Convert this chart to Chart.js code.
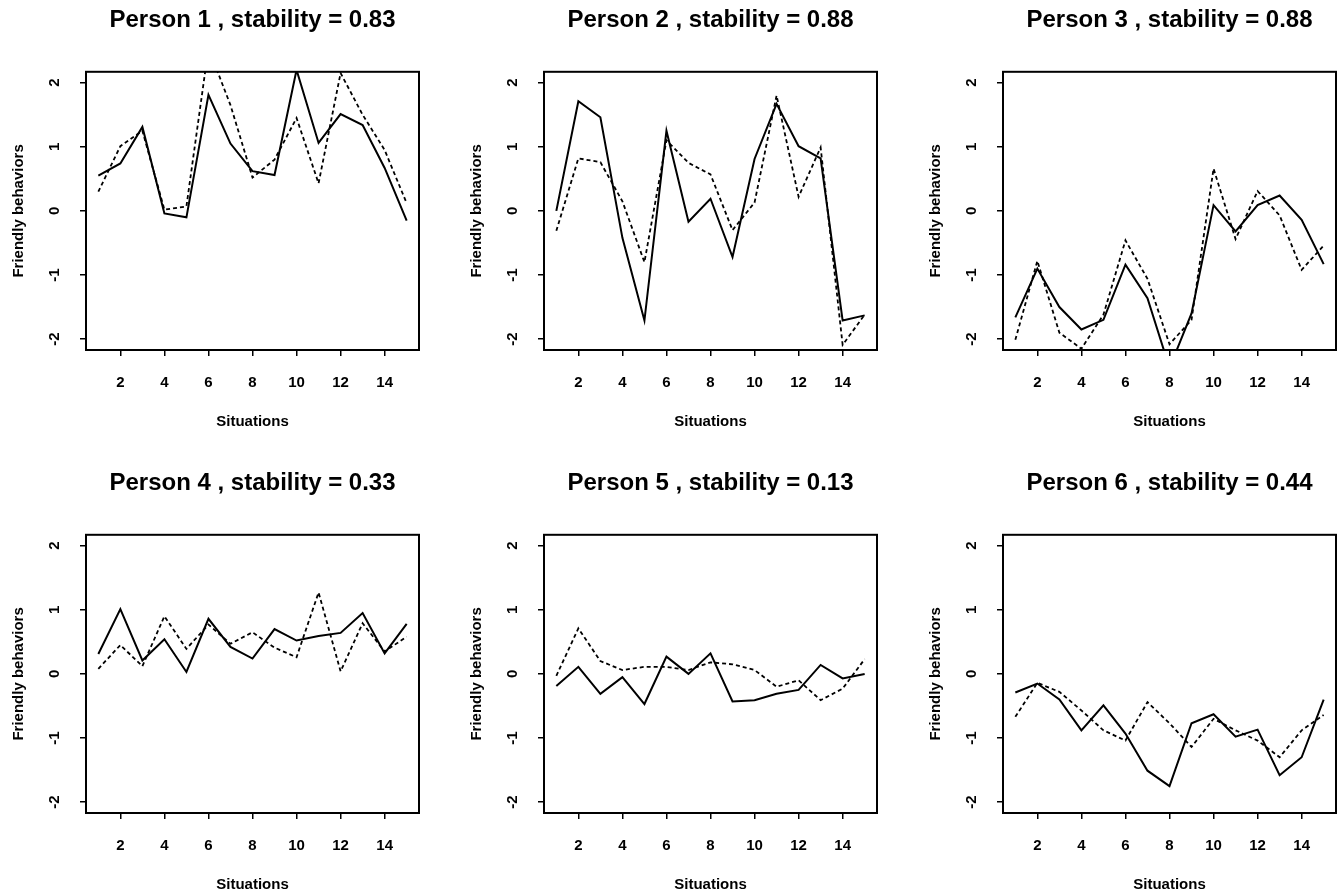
<!DOCTYPE html>
<html>
<head>
<meta charset="utf-8">
<script src="https://cdn.jsdelivr.net/npm/chart.js@4.4.1/dist/chart.umd.min.js"></script>
<style>
    html, body { margin: 0; padding: 0; background: #fff; width: 1340px; height: 896px; overflow: hidden; }
    .panel { position: absolute; width: 505px; height: 433px; }
</style>
</head>
<body>
<div class="panel" style="left:0px;top:0px"><canvas id="c1" width="505" height="433"></canvas></div>
<div class="panel" style="left:458px;top:0px"><canvas id="c2" width="505" height="433"></canvas></div>
<div class="panel" style="left:917px;top:0px"><canvas id="c3" width="505" height="433"></canvas></div>
<div class="panel" style="left:0px;top:463px"><canvas id="c4" width="505" height="433"></canvas></div>
<div class="panel" style="left:458px;top:463px"><canvas id="c5" width="505" height="433"></canvas></div>
<div class="panel" style="left:917px;top:463px"><canvas id="c6" width="505" height="433"></canvas></div>
<script>
// Data
const situations = [1, 2, 3, 4, 5, 6, 7, 8, 9, 10, 11, 12, 13, 14, 15];
const xTicks = [2, 4, 6, 8, 10, 12, 14];
const yTicks = [-2, -1, 0, 1, 2];
const stability = [0.83, 0.88, 0.88, 0.33, 0.13, 0.44];

const person1Solid  = [0.55, 0.74, 1.31, -0.04, -0.10, 1.81, 1.05, 0.62, 0.56, 2.20, 1.06, 1.51, 1.34, 0.67, -0.15];
const person1Dashed = [0.30, 1.01, 1.25, 0.02, 0.07, 2.54, 1.65, 0.52, 0.80, 1.45, 0.43, 2.15, 1.50, 0.95, 0.12];

const person2Solid  = [0.00, 1.71, 1.46, -0.42, -1.71, 1.25, -0.17, 0.19, -0.72, 0.81, 1.67, 1.01, 0.82, -1.71, -1.63];
const person2Dashed = [-0.31, 0.82, 0.76, 0.15, -0.80, 1.10, 0.75, 0.57, -0.30, 0.13, 1.80, 0.22, 0.99, -2.09, -1.62];

const person3Solid  = [-1.66, -0.90, -1.50, -1.85, -1.70, -0.84, -1.36, -2.45, -1.60, 0.09, -0.32, 0.09, 0.24, -0.14, -0.83];
const person3Dashed = [-2.01, -0.78, -1.90, -2.15, -1.62, -0.46, -1.06, -2.08, -1.70, 0.66, -0.44, 0.31, -0.07, -0.92, -0.54];

const person4Solid  = [0.31, 1.01, 0.21, 0.54, 0.03, 0.86, 0.42, 0.24, 0.70, 0.52, 0.59, 0.64, 0.95, 0.32, 0.78];
const person4Dashed = [0.08, 0.45, 0.12, 0.90, 0.39, 0.77, 0.47, 0.65, 0.41, 0.26, 1.27, 0.04, 0.79, 0.35, 0.58];

const person5Solid  = [-0.19, 0.11, -0.31, -0.05, -0.47, 0.27, 0.00, 0.32, -0.43, -0.41, -0.31, -0.25, 0.14, -0.07, 0.00];
const person5Dashed = [-0.03, 0.71, 0.20, 0.06, 0.11, 0.11, 0.06, 0.18, 0.15, 0.06, -0.20, -0.10, -0.41, -0.23, 0.23];

const person6Solid  = [-0.29, -0.15, -0.40, -0.88, -0.49, -0.93, -1.51, -1.75, -0.77, -0.63, -0.98, -0.87, -1.58, -1.30, -0.40];
const person6Dashed = [-0.67, -0.14, -0.28, -0.57, -0.88, -1.04, -0.44, -0.77, -1.14, -0.70, -0.88, -1.04, -1.30, -0.88, -0.64];

const persons = [
    [person1Solid, person1Dashed],
    [person2Solid, person2Dashed],
    [person3Solid, person3Dashed],
    [person4Solid, person4Dashed],
    [person5Solid, person5Dashed],
    [person6Solid, person6Dashed]
];

Chart.defaults.font.family = "'Liberation Sans', Arial, Helvetica, sans-serif";
Chart.defaults.color = '#000';

// Box round the plot area (R style)
const framePlugin = {
    id: 'frame',
    afterDraw(chart) {
        const { ctx, chartArea: a } = chart;
        ctx.save();
        ctx.strokeStyle = '#000';
        ctx.lineWidth = 2;
        ctx.strokeRect(a.left, a.top, a.right - a.left, a.bottom - a.top);
        ctx.restore();
    }
};

const toPoints = vals => situations.map((s, i) => ({ x: s, y: vals[i] }));

function makePanel(id, idx) {
    const [solid, dashed] = persons[idx];
    const axisFont = { size: 15, weight: 'bold' };

    return new Chart(document.getElementById(id), {
        type: 'line',
        data: {
            datasets: [{
                data: toPoints(solid),
                borderColor: '#000',
                borderWidth: 2,
                pointRadius: 0,
                tension: 0,
                clip: 0
            }, {
                data: toPoints(dashed),
                borderColor: '#000',
                borderWidth: 1.8,
                borderDash: [4, 3],
                pointRadius: 0,
                tension: 0,
                clip: 0
            }]
        },
        options: {
            responsive: false,
            animation: false,
            events: [],
            layout: { padding: { left: 0, right: 86, top: 0, bottom: 0 } },
            plugins: {
                legend: { display: false },
                tooltip: { enabled: false },
                title: {
                    display: true,
                    fullSize: false,   // centre over the plot box, not the canvas
                    text: `Person ${idx + 1} , stability = ${stability[idx].toFixed(2)}`,
                    font: { size: 24, weight: 'bold' },
                    color: '#000',
                    padding: { top: 6, bottom: 37 }
                }
            },
            scales: {
                x: {
                    type: 'linear',
                    min: 0.44,
                    max: 15.56,
                    afterBuildTicks: s => { s.ticks = xTicks.map(v => ({ value: v })); },
                    afterFit: s => { s.height = 83; },
                    ticks: { font: axisFont, padding: 18, maxRotation: 0, callback: v => String(v) },
                    grid: { drawOnChartArea: false, drawTicks: true, tickLength: 6, color: '#000', lineWidth: 1.5 },
                    border: { display: false },
                    title: { display: true, text: 'Situations', font: axisFont, padding: { top: 0, bottom: 2 } }
                },
                y: {
                    type: 'linear',
                    min: -2.17,
                    max: 2.17,
                    afterBuildTicks: s => { s.ticks = yTicks.map(v => ({ value: v })); },
                    afterFit: s => { s.width = 86; },
                    ticks: { font: axisFont, padding: 18, minRotation: 90, maxRotation: 90, crossAlign: 'center', callback: v => String(v) },
                    grid: { drawOnChartArea: false, drawTicks: true, tickLength: 6, color: '#000', lineWidth: 1.5 },
                    border: { display: false },
                    title: { display: true, text: 'Friendly behaviors', font: axisFont, padding: { top: 10, bottom: 0 } }
                }
            }
        },
        plugins: [framePlugin]
    });
}

['c1', 'c2', 'c3', 'c4', 'c5', 'c6'].forEach((id, i) => makePanel(id, i));
</script>
</body>
</html>
